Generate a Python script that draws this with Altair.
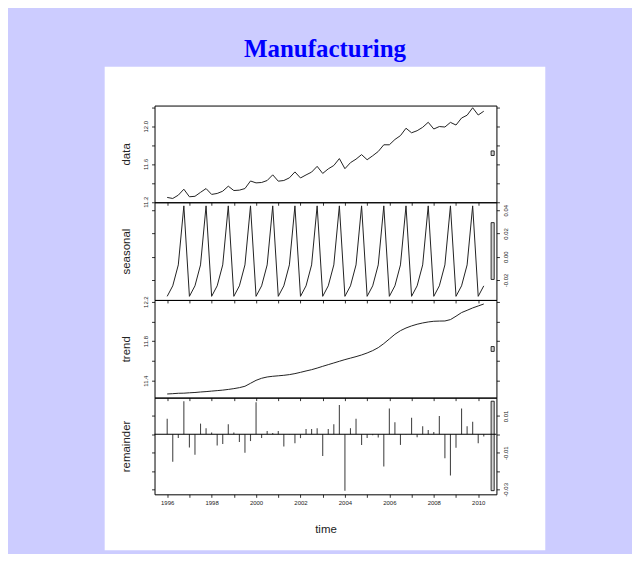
import altair as alt
import pandas as pd

# ---------------- data (quarterly, 1996 Q1 .. 2010 Q2) ----------------
start_year = 1996
per_year = 4

data_vals = [11.246, 11.235, 11.270, 11.333, 11.253, 11.258, 11.300, 11.340,
             11.278, 11.288, 11.312, 11.365, 11.319, 11.323, 11.340, 11.420,
             11.400, 11.404, 11.425, 11.485, 11.418, 11.425, 11.453, 11.516,
             11.452, 11.484, 11.514, 11.575, 11.500, 11.548, 11.584, 11.657,
             11.550, 11.614, 11.651, 11.699, 11.645, 11.687, 11.732, 11.803,
             11.803, 11.859, 11.900, 11.978, 11.930, 11.952, 11.988, 12.041,
             11.970, 11.996, 11.991, 12.040, 12.012, 12.086, 12.116, 12.195,
             12.118, 12.158]

seasonal_vals = [-0.034, -0.025, -0.007, 0.0437, -0.034, -0.025, -0.007, 0.0437,
                 -0.034, -0.025, -0.007, 0.0437, -0.034, -0.025, -0.007, 0.0437,
                 -0.034, -0.025, -0.007, 0.0437, -0.034, -0.025, -0.007, 0.0437,
                 -0.034, -0.025, -0.007, 0.0437, -0.034, -0.025, -0.007, 0.0437,
                 -0.034, -0.025, -0.007, 0.0437, -0.034, -0.025, -0.007, 0.0437,
                 -0.034, -0.025, -0.007, 0.0437, -0.034, -0.025, -0.007, 0.0437,
                 -0.034, -0.025, -0.007, 0.0437, -0.034, -0.025, -0.007, 0.0437,
                 -0.034, -0.025]

trend_vals = [11.265, 11.268, 11.272, 11.273, 11.277, 11.280, 11.285, 11.289,
              11.294, 11.299, 11.304, 11.311, 11.319, 11.329, 11.343, 11.373,
              11.403, 11.424, 11.437, 11.444, 11.449, 11.454, 11.461, 11.471,
              11.484, 11.498, 11.511, 11.527, 11.545, 11.562, 11.579, 11.596,
              11.613, 11.628, 11.643, 11.660, 11.680, 11.704, 11.734, 11.775,
              11.822, 11.869, 11.906, 11.933, 11.954, 11.971, 11.984, 11.994,
              12.001, 12.003, 12.004, 12.018, 12.052, 12.089, 12.112, 12.136,
              12.156, 12.176]

remainder_vals = [0.0084, -0.0149, -0.0021, 0.0180, -0.0072, -0.0112, 0.0058, 0.0033,
                  0.0009, -0.0061, -0.0053, 0.0054, 0.0009, -0.0042, -0.0100, -0.0037,
                  0.0175, -0.0021, 0.0018, 0.0007, 0.0018, -0.0067, 0.0001, -0.0049,
                  -0.0021, 0.0028, 0.0028, 0.0033, -0.0118, 0.0028, 0.0054, 0.0160,
                  -0.0307, 0.0033, 0.0084, -0.0058, -0.0021, -0.0005, -0.0018, -0.0175,
                  0.0140, 0.0065, -0.0058, 0.0001, 0.0090, -0.0016, 0.0044, 0.0023,
                  0.0012, 0.0100, -0.0130, -0.0225, -0.0074, 0.0140, 0.0044, 0.0068,
                  -0.0049, -0.0012]

time_vals = [start_year + i / per_year for i in range(len(data_vals))]

year_ticks = list(range(1996, 2011))
year_labels = list(range(1996, 2011, 2))
x_domain = [1995.43, 2010.82]
range_bar_x = [2010.58, 2010.72]

panel_specs = [
    dict(name="data", values=data_vals, domain=[11.195, 12.218],
         ticks=[11.2, 11.4, 11.6, 11.8, 12.0, 12.2], labels=[11.2, 11.6, 12.0],
         fmt=".1f", bar=[11.690, 11.738], height=97),
    dict(name="seasonal", values=seasonal_vals, domain=[-0.0371, 0.0468],
         ticks=[-0.02, 0.0, 0.02, 0.04], labels=[-0.02, 0.0, 0.02, 0.04],
         fmt=".2f", bar=[-0.0195, 0.0293], height=98),
    dict(name="trend", values=trend_vals, domain=[11.228, 12.217],
         ticks=[11.4, 11.6, 11.8, 12.0, 12.2], labels=[11.4, 11.8, 12.2],
         fmt=".1f", bar=[11.696, 11.745], height=98),
    dict(name="remainder", values=remainder_vals, domain=[-0.0327, 0.01995],
         ticks=[-0.03, -0.02, -0.01, 0.0, 0.01], labels=[-0.03, -0.01, 0.01],
         fmt=".2f", bar=[-0.0307, 0.0180], height=97),
]

PANEL_W = 343
FONT = "Liberation Sans"
TXT = "#222222"


def js_list(vals):
    return "[" + ",".join(repr(v) for v in vals) + "]"


def label_expr(labels, fmt):
    return ("indexof(" + js_list(labels) + ", datum.value) >= 0 ? "
            "replace(format(datum.value, '" + fmt + "'), '\u2212', '-') : ''")


def y_axis(spec, orient, show_labels, title):
    kw = dict(orient=orient, values=spec["ticks"], grid=False, domain=False,
              tickSize=3, tickColor="black", tickWidth=0.8, zindex=1,
              labelFont=FONT, labelFontSize=6, labelColor=TXT, labelAngle=-90,
              labelAlign="center", labelPadding=3,
              labelBaseline="bottom" if orient == "left" else "top",
              labels=show_labels)
    if show_labels:
        kw["labelExpr"] = label_expr(spec["labels"], spec["fmt"])
    if title:
        kw.update(title=title, titleFont=FONT, titleFontSize=11.5,
                  titleFontWeight="normal", titleColor=TXT, titleAngle=-90,
                  titleX=-25, titleY=spec["height"] / 2, titleAlign="center",
                  titleBaseline="alphabetic")
    else:
        kw["title"] = None
    return alt.Axis(**kw)


def x_axis(last):
    kw = dict(orient="bottom", values=year_ticks, grid=False, domain=False,
              tickSize=3, tickColor="black", tickWidth=0.8, zindex=1,
              labels=last, labelFont=FONT, labelFontSize=6, labelColor=TXT,
              labelPadding=2, labelBaseline="top")
    if last:
        kw["labelExpr"] = ("indexof(" + js_list(year_labels) +
                           ", datum.value) >= 0 ? format(datum.value, 'd') : ''")
        kw.update(title="time", titleFont=FONT, titleFontSize=11.5,
                  titleFontWeight="normal", titleColor=TXT,
                  titleY=38, titleBaseline="alphabetic")
    else:
        kw["title"] = None
    return alt.Axis(**kw)


# white "paper" behind the whole R figure (decoration, drawn first)
paper = alt.Chart(pd.DataFrame({"a": [0]})).mark_rect(color="white").encode(
    x=alt.value(-50), x2=alt.value(392), y=alt.value(-38), y2=alt.value(447)
).properties(width=PANEL_W, height=1, view=alt.ViewBackground(stroke="transparent"))

charts = [paper]
for k, spec in enumerate(panel_specs):
    last = k == len(panel_specs) - 1
    right_labels = spec["name"] in ("seasonal", "remainder")
    df = pd.DataFrame({"t": time_vals, "v": spec["values"]})
    xs = alt.Scale(domain=x_domain, nice=False, zero=False)
    ys = alt.Scale(domain=spec["domain"], nice=False, zero=False)
    xa = x_axis(last)

    x_enc = alt.X("t:Q", scale=xs, axis=xa)
    y_enc = alt.Y("v:Q", scale=ys, axis=y_axis(spec, "left", not right_labels, spec["name"]))

    if spec["name"] == "remainder":
        main = alt.Chart(df).mark_rule(color="#4a4a4a", strokeWidth=1.1).encode(
            x=x_enc, y=y_enc, y2=alt.datum(0))
    else:
        main = alt.Chart(df).mark_line(color="#222222", strokeWidth=1).encode(
            x=x_enc, y=y_enc)

    bar_df = pd.DataFrame({"x0": [range_bar_x[0]], "x1": [range_bar_x[1]],
                           "lo": [spec["bar"][0]], "hi": [spec["bar"][1]]})
    bar = alt.Chart(bar_df).mark_rect(fill="#d3d3d3", stroke="black", strokeWidth=0.8).encode(
        x=alt.X("x0:Q", scale=xs, axis=xa),
        x2="x1:Q",
        y=alt.Y("lo:Q", scale=ys, axis=y_axis(spec, "right", right_labels, None)),
        y2="hi:Q",
    )

    layers = [main, bar]
    if spec["name"] == "remainder":
        zero = alt.Chart(pd.DataFrame({"a": [0]})).mark_rule(color="black", strokeWidth=1).encode(
            y=alt.YDatum(0, scale=ys, axis=None))
        layers.append(zero)

    ch = alt.layer(*layers).resolve_axis(y="independent").properties(
        width=PANEL_W, height=spec["height"])
    charts.append(ch)

chart = alt.vconcat(*charts, spacing=0, bounds="flush").properties(
    title=alt.TitleParams("Manufacturing", font="Liberation Serif", fontSize=25,
                          fontWeight="bold", color="#0000ff", anchor="middle", offset=4)
).configure(
    background="#ccccff",
    padding={"left": 96, "right": 86, "top": 28, "bottom": 2},
).configure_view(stroke="black", strokeWidth=1)

chart.save("out.html", embed_options={"renderer": "svg", "actions": False})
